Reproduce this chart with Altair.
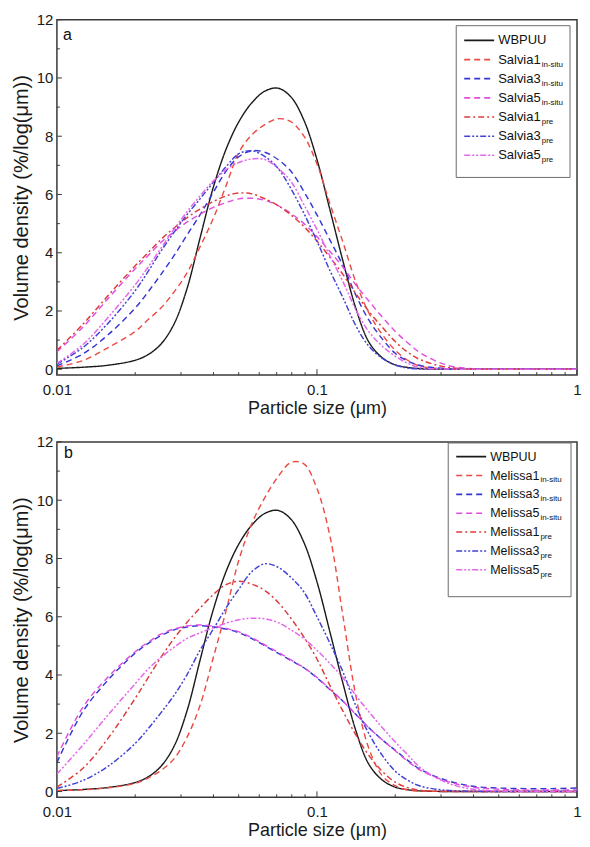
import altair as alt
import pandas as pd

# ---------------- data ----------------
size_um = [0.01, 0.0126, 0.0158, 0.02, 0.0224, 0.0251, 0.0282, 0.0316, 0.0355, 0.0398,
           0.0447, 0.0501, 0.0562, 0.0631, 0.0708, 0.0794, 0.0891, 0.1, 0.112, 0.126,
           0.141, 0.158, 0.178, 0.2, 0.224, 0.251, 0.316, 0.398, 0.501, 0.631, 0.794, 1.0]

wbpuu = [0.03, 0.07, 0.14, 0.31, 0.5, 0.86, 1.55, 2.75, 4.5, 6.2, 7.55, 8.5, 9.15, 9.55, 9.65, 9.35,
         8.55, 7.2, 5.5, 3.7, 2.1, 0.95, 0.4, 0.15, 0.06, 0.02, 0, 0, 0, 0, 0, 0]

# panel a
salvia1_insitu = [0.08, 0.3, 0.75, 1.3, 1.7, 2.1, 2.65, 3.3, 4.2, 5.15, 6.3, 7.45, 8.05, 8.4, 8.6, 8.5,
                  8.0, 7.05, 5.7, 4.35, 3.0, 1.95, 1.2, 0.65, 0.3, 0.1, 0.01, 0, 0, 0, 0, 0]
salvia3_insitu = [0.12, 0.53, 1.2, 2.1, 2.65, 3.25, 3.9, 4.6, 5.3, 6.05, 6.8, 7.3, 7.5, 7.45, 7.2, 6.8,
                  6.1, 5.3, 4.45, 3.55, 2.55, 1.7, 1.05, 0.55, 0.28, 0.12, 0.02, 0, 0, 0, 0, 0]
salvia5_insitu = [0.6, 1.45, 2.45, 3.45, 3.9, 4.35, 4.72, 5.05, 5.32, 5.55, 5.72, 5.85, 5.87, 5.8, 5.62, 5.35,
                  5.0, 4.55, 4.05, 3.5, 2.9, 2.35, 1.8, 1.3, 0.9, 0.55, 0.14, 0.02, 0, 0, 0, 0]
salvia1_pre = [0.65, 1.55, 2.55, 3.55, 4.0, 4.45, 4.85, 5.2, 5.5, 5.75, 5.95, 6.05, 6.02, 5.85, 5.62, 5.3,
               4.9, 4.4, 3.85, 3.25, 2.6, 2.0, 1.45, 0.95, 0.58, 0.32, 0.07, 0.01, 0, 0, 0, 0]
salvia3_pre = [0.18, 0.75, 1.6, 2.7, 3.35, 4.05, 4.7, 5.3, 5.85, 6.4, 6.95, 7.4, 7.5, 7.3, 6.9, 6.2,
               5.35, 4.4, 3.4, 2.45, 1.5, 0.8, 0.38, 0.15, 0.04, 0.01, 0, 0, 0, 0, 0, 0]
salvia5_pre = [0.2, 0.85, 1.8, 2.9, 3.5, 4.15, 4.8, 5.4, 5.95, 6.45, 6.85, 7.1, 7.22, 7.2, 6.9, 6.45,
               5.65, 4.8, 3.9, 3.0, 2.05, 1.3, 0.8, 0.45, 0.2, 0.05, 0.01, 0, 0, 0, 0, 0]

# panel b
melissa1_insitu = [0.03, 0.06, 0.13, 0.28, 0.46, 0.72, 1.12, 1.85, 2.95, 4.55, 6.2, 7.95, 9.2, 10.1, 10.8, 11.3,
                   11.25, 10.4, 8.8, 6.0, 3.3, 1.5, 0.55, 0.2, 0.05, 0.02, 0, 0, 0, 0, 0, 0]
melissa3_insitu = [1.0, 2.75, 3.85, 4.75, 5.08, 5.35, 5.55, 5.65, 5.69, 5.65, 5.58, 5.45, 5.25, 5.0, 4.75, 4.5,
                   4.25, 3.9, 3.5, 3.1, 2.65, 2.2, 1.78, 1.42, 1.06, 0.75, 0.38, 0.18, 0.12, 0.1, 0.1, 0.12]
melissa5_insitu = [1.2, 2.9, 3.95, 4.8, 5.12, 5.4, 5.58, 5.68, 5.72, 5.68, 5.6, 5.48, 5.28, 5.03, 4.78, 4.52,
                   4.25, 3.92, 3.52, 3.1, 2.65, 2.2, 1.78, 1.4, 1.03, 0.72, 0.35, 0.15, 0.08, 0.05, 0.05, 0.05]
melissa1_pre = [0.15, 0.8, 1.85, 3.2, 3.9, 4.6, 5.25, 5.8, 6.3, 6.75, 7.1, 7.22, 7.12, 6.9, 6.5, 5.95,
                5.3, 4.55, 3.65, 2.75, 1.95, 1.25, 0.7, 0.32, 0.13, 0.04, 0.01, 0, 0, 0, 0, 0]
melissa3_pre = [0.1, 0.38, 0.88, 1.65, 2.15, 2.7, 3.3, 4.0, 4.85, 5.55, 6.3, 6.95, 7.55, 7.82, 7.7, 7.35,
                6.85, 6.0, 5.1, 4.1, 2.95, 2.0, 1.25, 0.7, 0.38, 0.18, 0.04, 0.01, 0, 0, 0, 0]
melissa5_pre = [0.6, 1.6, 2.65, 3.7, 4.2, 4.6, 4.95, 5.25, 5.45, 5.62, 5.78, 5.9, 5.95, 5.93, 5.8, 5.55,
                5.25, 4.85, 4.4, 3.9, 3.3, 2.75, 2.2, 1.7, 1.25, 0.8, 0.3, 0.08, 0.02, 0, 0, 0]

base_a = ["WBPUU", "Salvia1", "Salvia3", "Salvia5", "Salvia1", "Salvia3", "Salvia5"]
base_b = ["WBPUU", "Melissa1", "Melissa3", "Melissa5", "Melissa1", "Melissa3", "Melissa5"]
subs = ["", "in-situ", "in-situ", "in-situ", "pre", "pre", "pre"]
keys = ["k0", "k1", "k2", "k3", "k4", "k5", "k6"]

x_major = [0.01, 0.1, 1]
x_minor = [0.02, 0.03, 0.04, 0.05, 0.06, 0.07, 0.08, 0.09, 0.2, 0.3, 0.4, 0.5, 0.6, 0.7, 0.8, 0.9]
y_major = [0, 2, 4, 6, 8, 10, 12]
y_minor = [1, 3, 5, 7, 9, 11]

# ---------------- styles ----------------
FONT = "Liberation Sans"
FRAME = "#3a3a3a"
W, H = 521, 356
colors = ["#1a1a1a", "#ec4a44", "#3535d2", "#e04ee0", "#dc3c3c", "#4242d6", "#e466ea"]
dashes = [[1, 0], [6, 4], [6, 4], [6, 4], [6, 3, 2, 3], [6, 2, 2, 2, 2, 2], [6, 2, 2, 2, 2, 2]]
widths = [1.4, 1.5, 1.5, 1.5, 1.3, 1.3, 1.3]

ARIAL = {"S": 667, "a": 556, "l": 222, "v": 500, "i": 222, "1": 556, "3": 556, "5": 556,
         "M": 833, "e": 556, "s": 500, "W": 944, "B": 667, "P": 667, "U": 722}


def text_w(s, size):
    return sum(ARIAL.get(c, 556) for c in s) * size / 1000.0


def one():
    return pd.DataFrame({"k": [0]})


xscale = alt.Scale(type="log", domain=[0.01, 1])
yscale = alt.Scale(domain=[-0.2, 12], nice=False, zero=False)
xaxis = alt.Axis(values=x_major, title="Particle size (μm)",
                 labelExpr="datum.value >= 0.99 ? '1' : (datum.value >= 0.099 ? '0.1' : '0.01')")
yaxis = alt.Axis(values=y_major, title="Volume density (%/log(μm))")


def make_panel(series_vals, bases, letter, letter_xy, box, row0, row_step, sx, tx, fsz):
    df = pd.DataFrame({
        "size": size_um * len(keys),
        "vd": [v for vals in series_vals for v in vals],
        "series": [k for k in keys for _ in size_um],
    })

    lines = alt.Chart(df).mark_line(interpolate="catmull-rom", clip=True).encode(
        x=alt.X("size:Q", scale=xscale, axis=xaxis),
        y=alt.Y("vd:Q", scale=yscale, axis=yaxis),
        color=alt.Color("series:N", scale=alt.Scale(domain=keys, range=colors), legend=None),
        strokeDash=alt.StrokeDash("series:N", scale=alt.Scale(domain=keys, range=dashes), legend=None),
        strokeWidth=alt.StrokeWidth("series:N", scale=alt.Scale(domain=keys, range=widths), legend=None),
    )

    layers = [lines]
    # inward ticks
    for vals, ln in ((x_major, 6), (x_minor, 3)):
        layers.append(alt.Chart(pd.DataFrame({"size": vals})).mark_rule(color=FRAME, strokeWidth=1).encode(
            x=alt.X("size:Q", scale=xscale, axis=xaxis), y=alt.value(H), y2=alt.value(H - ln)))
    for vals, ln in ((y_major, 5), (y_minor, 3)):
        layers.append(alt.Chart(pd.DataFrame({"vd": vals})).mark_rule(color=FRAME, strokeWidth=1).encode(
            y=alt.Y("vd:Q", scale=yscale, axis=yaxis), x=alt.value(0), x2=alt.value(ln)))

    # panel letter
    layers.append(alt.Chart(one()).mark_text(text=letter, font=FONT, fontSize=16, align="left",
                                            baseline="middle", color="#111").encode(
        x=alt.value(letter_xy[0]), y=alt.value(letter_xy[1])))

    # legend box
    layers.append(alt.Chart(one()).mark_rect(fill="white", stroke="#6a6a6a", strokeWidth=1).encode(
        x=alt.value(box[0]), x2=alt.value(box[2]), y=alt.value(box[1]), y2=alt.value(box[3])))
    for i, (b, s) in enumerate(zip(bases, subs)):
        yr = row0 + i * row_step
        layers.append(alt.Chart(one()).mark_rule(color=colors[i], strokeDash=dashes[i],
                                                strokeWidth=widths[i] + 0.2).encode(
            x=alt.value(sx[0]), x2=alt.value(sx[1]), y=alt.value(yr)))
        layers.append(alt.Chart(one()).mark_text(text=b, font=FONT, fontSize=fsz, align="left",
                                                baseline="middle", color="#111").encode(
            x=alt.value(tx), y=alt.value(yr)))
        if s:
            layers.append(alt.Chart(one()).mark_text(text=s, font=FONT, fontSize=8, align="left",
                                                    baseline="middle", color="#111").encode(
                x=alt.value(tx + text_w(b, fsz) + 1), y=alt.value(yr + 5)))

    return alt.layer(*layers).properties(width=W, height=H)


panel_a = make_panel(
    [wbpuu, salvia1_insitu, salvia3_insitu, salvia5_insitu, salvia1_pre, salvia3_pre, salvia5_pre],
    base_a, "a", (6, 15), (400, 6, 514, 158), 20.7, 19.2, (408, 438), 442, 13)

panel_b = make_panel(
    [wbpuu, melissa1_insitu, melissa3_insitu, melissa5_insitu, melissa1_pre, melissa3_pre, melissa5_pre],
    base_b, "b", (7, 11), (392, 1, 515, 155), 14.7, 18.9, (400, 430), 434, 12.5)

chart = alt.vconcat(panel_a, panel_b, spacing=16).properties(
    padding={"left": 2, "top": 3, "right": 0, "bottom": 0}
).configure_view(stroke=FRAME, strokeWidth=1.5).configure_axis(
    domain=False, ticks=False, grid=False,
    labelFont=FONT, labelFontSize=15, labelColor="#1a1a1a",
    titleFont=FONT, titleFontWeight="normal", titleColor="#1a1a1a",
).configure_axisX(labelPadding=7, titlePadding=2, titleFontSize=18, labelFlush=False).configure_axisY(
    labelPadding=4, titlePadding=5, titleFontSize=20)

chart.save("out.html", embed_options={"renderer": "svg", "actions": False})
